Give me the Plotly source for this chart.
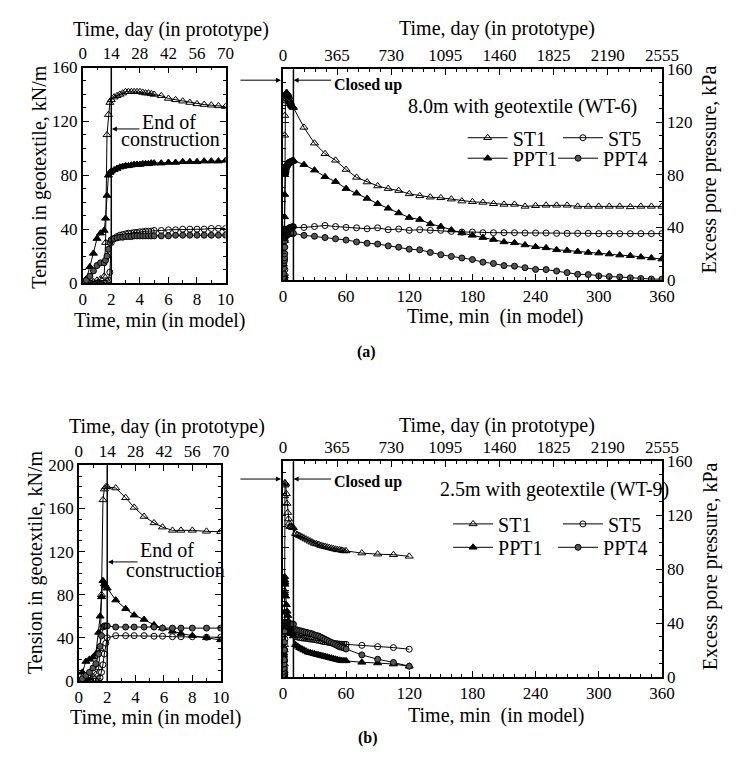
import plotly.graph_objects as go

FONT = "Liberation Serif, Times New Roman, Tinos, DejaVu Serif, serif"
W, H = 744, 766

# ---------------- (a) 8.0 m with geotextile (WT-6) ----------------
t_early_a = [0, 0.25, 0.5, 0.75, 1.0, 1.25, 1.5, 1.6, 1.7, 1.8, 1.9, 2.0,
             2.2, 2.4, 2.6, 2.8, 3.0, 3.2, 3.4, 3.6, 3.8, 4.0, 4.2, 4.4, 4.6, 4.8, 5.0,
             5.5, 6.0, 6.5, 7.0, 7.5, 8.0, 8.5, 9.0, 9.5, 10.0]
st1_early_a = [0, 0, 0, 1, 2, 3, 5, 30, 110, 125, 134, 136,
               138, 139, 140, 141, 142, 142, 142, 142, 142, 142, 141.5, 141, 141, 140.5, 140,
               139, 137, 136, 135, 134, 133, 132.5, 132, 131.5, 131]
st5_early_a = [0, 0, 0, 0, 0, 0, 0, 0, 1, 2, 8, 30,
               33, 34.5, 35.5, 36, 36.5, 37, 37, 37.5, 37.5, 38, 38, 38.5, 38.5, 38.5, 39,
               39, 39.5, 39.5, 40, 40, 40, 40, 40.5, 40.5, 40.5]
ppt1_early_a = [0, 3, 12, 22, 33, 37, 39, 48, 65, 80, 82, 83,
                84, 85, 86, 86.5, 87, 87, 87.5, 88, 88, 88, 88.5, 88.5, 88.5, 89, 89,
                89, 89.5, 89.5, 90, 90, 90, 90.5, 90.5, 90.5, 91]
ppt4_early_a = [0, 2, 5, 9, 13, 15, 15, 17, 20, 25, 30, 32,
                33, 33.5, 34, 34, 34.5, 34.5, 34.5, 35, 35, 35, 35, 35, 35, 35, 35,
                35, 35, 35.5, 35.5, 35.5, 35.5, 35.5, 35.5, 35.5, 35.5]

t_late_a = [20, 30, 40, 50, 60, 70, 80, 90, 100, 110, 120, 130, 140, 150, 160, 170, 180,
            190, 200, 210, 220, 230, 240, 250, 260, 270, 280, 290, 300, 310, 320, 330,
            340, 350, 360]
st1_late_a = [116, 104, 96, 91, 84, 78, 74.5, 71.5, 69.5, 68, 65.5, 64, 63, 62.5, 61.5, 60,
              59.5, 59, 58, 57.5, 57.5, 56, 56.5, 56.8, 56.8, 56.8, 56, 56, 56, 56, 56, 55.6,
              56, 56, 56]
st5_late_a = [40, 40.7, 41.5, 40.7, 40, 39.7, 39, 39.7, 38.3, 38.8, 37.8, 38.3, 37.8, 37.8,
              37, 36.5, 36.5, 36, 36, 36, 36, 35.8, 35.8, 35.8, 35.5, 35.5, 35.5, 35.5, 35.3,
              35.3, 35.3, 35.3, 35.3, 35.3, 35.3]
ppt1_late_a = [87.7, 83.5, 78.5, 74.8, 69.5, 66, 62, 58, 54.5, 51, 47.5, 46, 42.7, 40.7, 38,
               35.8, 34, 32.3, 30.8, 29, 28.3, 26.7, 25.3, 24.5, 23, 22.5, 21.7, 21, 20.5,
               19.8, 19, 18.5, 17.5, 16.8, 16]
ppt4_late_a = [34, 33.3, 32.3, 31.4, 30.4, 29, 28, 27.4, 26, 25, 23.5, 23, 21, 19.3, 18, 16.8,
               15.6, 13.6, 12.6, 11, 10.6, 9.4, 8.1, 8, 6.9, 5.7, 4.4, 4.2, 3.2, 2.7, 2.4, 1.7,
               1.2, 0.8, 0.7]

# ---------------- (b) 2.5 m with geotextile (WT-9) ----------------
t_early_b = [0, 0.25, 0.5, 0.75, 1.0, 1.2, 1.4, 1.5, 1.6, 1.7, 1.8, 1.9, 2.0,
             2.6, 3.3, 3.9, 4.6, 5.3, 5.9, 6.6, 7.2, 8.0, 9.0, 10.0]
st1_early_b = [0, 1, 2, 3, 4, 6, 12, 30, 80, 168, 178, 180, 180,
               179, 170, 161, 152.6, 146.6, 142.7, 139.7, 139.7, 139.7, 138.8, 138.5]
st5_early_b = [0, 0, 0, 0, 0, 0, 0, 3, 8, 15, 25, 35, 40,
               42, 42, 42, 42, 41.5, 41.5, 41, 41, 41, 40.5, 40.5]
ppt1_early_b = [0, 8, 18, 20, 22, 25, 45, 60, 78, 93, 90, 88, 86,
                75, 67, 61, 57, 52, 49, 46, 44, 42, 40, 38]
ppt4_early_b = [0, 2, 5, 8, 12, 16, 25, 32, 42, 50, 51, 51, 51,
                50, 50, 50, 50, 50, 49, 49, 49, 49, 49, 49]

t_late_b = [12, 14, 16, 18, 20, 22, 24, 26, 28, 30, 32, 34, 36, 38, 40, 42, 44, 46, 48, 50,
            52, 54, 56, 58, 60, 75, 90, 105, 120]
st1_late_b = [133, 132, 131, 130, 129, 128, 127, 126, 125, 124, 123.5, 123, 122, 121.5, 121,
              120.5, 120, 119.5, 119, 118.5, 118, 118, 117.5, 117, 117, 115, 114, 113.5, 112]
st5_late_b = [37.5, 37, 36.5, 36.3, 36, 35.8, 35.5, 35.2, 35, 34.8, 34.4, 34, 33.5, 33, 32.7,
              32.4, 32, 31.7, 31.3, 31, 30.8, 30.5, 30.4, 30.3, 30.3, 29.4, 28.2, 27.3, 25.8]
ppt1_late_b = [30, 28.5, 27, 26, 25, 24, 23, 22.5, 22, 21.5, 21, 20.5, 20, 19.5, 19, 18.5, 18,
               17.5, 17, 16.5, 16, 15.5, 15.2, 15, 15, 13.6, 13, 12, 10]
ppt4_late_b = [44, 43.5, 43, 42.5, 42, 41.5, 41, 40.5, 40, 39, 38.5, 38, 37, 36, 35, 34, 33,
               32, 31, 30, 29, 28, 27.5, 27, 26, 20.5, 16.5, 13.5, 10]

# axis tick labels
min_ticks_left = [0, 2, 4, 6, 8, 10]
day_ticks_left = [0, 14, 28, 42, 56, 70]
min_ticks_right = [0, 60, 120, 180, 240, 300, 360]
day_ticks_right = [0, 365, 730, 1095, 1460, 1825, 2190, 2555]
END_OF_CONSTRUCTION = 2   # min
CLOSED_UP = 10            # min

STYLES = {
    "ST1": dict(symbol="triangle-up-open", size=7, color="black", line=dict(color="black", width=1)),
    "ST5": dict(symbol="circle-open", size=6, color="black", line=dict(color="black", width=1)),
    "PPT1": dict(symbol="triangle-up", size=7, color="black", line=dict(color="black", width=1)),
    "PPT4": dict(symbol="circle", size=6, color="#555555", line=dict(color="black", width=1)),
}
SERIES = ["ST1", "ST5", "PPT1", "PPT4"]


def px2paper(x, y):
    return x / W, 1 - y / H


def axname(prefix, i):
    return prefix if i == 1 else f"{prefix}{i}"


fig = go.Figure()

panels = [
    dict(early=(t_early_a, [st1_early_a, st5_early_a, ppt1_early_a, ppt4_early_a]),
         late=(t_late_a, [st1_late_a, st5_late_a, ppt1_late_a, ppt4_late_a]),
         ax=(1, 2, 3, 4), legends=("legend", "legend2", "legend3", "legend4")),
    dict(early=(t_early_b, [st1_early_b, st5_early_b, ppt1_early_b, ppt4_early_b]),
         late=(t_late_b, [st1_late_b, st5_late_b, ppt1_late_b, ppt4_late_b]),
         ax=(5, 6, 7, 8), legends=("legend5", "legend6", "legend7", "legend8")),
]

for p in panels:
    a0, a1, a2, a3 = p["ax"]
    te, ve = p["early"]
    tl, vl = p["late"]
    for k, name in enumerate(SERIES):
        fig.add_trace(go.Scatter(x=te, y=ve[k], mode="lines+markers", name=name,
                                 line=dict(color="black", width=1), marker=STYLES[name],
                                 xaxis=axname("x", a0), yaxis=axname("y", a0),
                                 showlegend=False, hoverinfo="skip"))
    for k, name in enumerate(SERIES):
        fig.add_trace(go.Scatter(x=list(te) + list(tl), y=list(ve[k]) + list(vl[k]),
                                 mode="lines+markers", name=name,
                                 line=dict(color="black", width=1), marker=STYLES[name],
                                 xaxis=axname("x", a2), yaxis=axname("y", a2),
                                 showlegend=True, legend=p["legends"][k], hoverinfo="skip"))
    fig.add_trace(go.Scatter(x=[None], y=[None], xaxis=axname("x", a1), yaxis=axname("y", a0),
                             showlegend=False, hoverinfo="skip"))
    fig.add_trace(go.Scatter(x=[None], y=[None], xaxis=axname("x", a3), yaxis=axname("y", a3),
                             showlegend=False, hoverinfo="skip"))

base = dict(showline=True, linecolor="black", linewidth=1.6, ticks="inside", ticklen=6,
            tickwidth=1, tickcolor="black", showgrid=False, zeroline=False,
            tickfont=dict(family=FONT, size=17, color="black"), fixedrange=True)


def minor(d):
    return dict(dtick=d, ticks="inside", ticklen=3, tickwidth=1, tickcolor="black", showgrid=False)


layouts = {}
geo = [
    dict(L=(81, 228, 60, 281), R=(287, 677, 62, 278), yr=160, ax=(1, 2, 3, 4)),
    dict(L=(77, 223, 468, 689), R=(287, 677, 464, 685), yr=200, ax=(5, 6, 7, 8)),
]
for g in geo:
    a0, a1, a2, a3 = g["ax"]
    lx0, lx1, ly0, ly1 = g["L"]
    rx0, rx1, ry0, ry1 = g["R"]
    ldx = [lx0 / W, lx1 / W]
    ldy = [1 - ly1 / H, 1 - ly0 / H]
    rdx = [rx0 / W, rx1 / W]
    rdy = [1 - ry1 / H, 1 - ry0 / H]
    layouts[axname("xaxis", a0)] = dict(base, domain=ldx, range=[0, 10], tickvals=min_ticks_left,
                                        minor=minor(1), anchor=axname("y", a0))
    layouts[axname("xaxis", a1)] = dict(base, range=[0, 70], tickvals=day_ticks_left, minor=minor(7),
                                        overlaying=axname("x", a0), side="top", anchor=axname("y", a0))
    layouts[axname("yaxis", a0)] = dict(base, domain=ldy, range=[0, g["yr"]], dtick=40, minor=minor(10),
                                        anchor=axname("x", a0), mirror="ticks")
    layouts[axname("xaxis", a2)] = dict(base, domain=rdx, range=[0, 360], tickvals=min_ticks_right,
                                        minor=minor(10), anchor=axname("y", a2))
    layouts[axname("xaxis", a3)] = dict(base, range=[0, 2555], tickvals=day_ticks_right, minor=minor(73),
                                        overlaying=axname("x", a2), side="top", anchor=axname("y", a2))
    layouts[axname("yaxis", a2)] = dict(base, domain=rdy, range=[0, g["yr"]], dtick=40, minor=minor(10),
                                        anchor=axname("x", a2), showticklabels=False)
    layouts[axname("yaxis", a3)] = dict(base, range=[0, 160], dtick=40, minor=minor(10),
                                        overlaying=axname("y", a2), side="right", anchor=axname("x", a2))

leg_common = dict(font=dict(family=FONT, size=20, color="black"), bgcolor="rgba(0,0,0,0)",
                  xanchor="left", yanchor="middle", itemwidth=40, tracegroupgap=0, borderwidth=0)
legend_pos = {
    "legend": (472, 132), "legend2": (570, 132), "legend3": (472, 153), "legend4": (565, 153),
    "legend5": (457, 528), "legend6": (570, 528), "legend7": (457, 552), "legend8": (565, 552),
}
for key, (lpx, lpy) in legend_pos.items():
    x, y = px2paper(lpx, lpy)
    layouts[key] = dict(leg_common, x=x, y=y)

fig.update_layout(
    width=W, height=H, margin=dict(l=0, r=0, t=0, b=0), autosize=False,
    paper_bgcolor="white", plot_bgcolor="rgba(0,0,0,0)",
    font=dict(family=FONT, size=17, color="black"),
    **layouts,
)

for xa, ya, xv in [("x", "y", END_OF_CONSTRUCTION), ("x3", "y3", CLOSED_UP),
                   ("x5", "y5", END_OF_CONSTRUCTION), ("x7", "y7", CLOSED_UP)]:
    fig.add_shape(type="line", xref=xa, yref=f"{ya} domain", x0=xv, x1=xv, y0=0, y1=1,
                  line=dict(color="black", width=1.5))


def text(xp, yp, s, size=20, bold=False, anchor="center", angle=0):
    x, y = px2paper(xp, yp)
    fig.add_annotation(x=x, y=y, xref="paper", yref="paper", text=f"<b>{s}</b>" if bold else s,
                       showarrow=False, xanchor=anchor, yanchor="middle", textangle=angle,
                       font=dict(family=FONT, size=size, color="black"))


def arrow(x_head, y_head, x_tail):
    x, y = px2paper(x_head, y_head)
    fig.add_annotation(x=x, y=y, xref="paper", yref="paper", text="", showarrow=True,
                       ax=x_tail - x_head, ay=0, axref="pixel", ayref="pixel",
                       arrowhead=2, arrowsize=1, arrowwidth=1, arrowcolor="black", standoff=0)


TOP_T = "Time, day (in prototype)"
LEFT_Y = "Tension in geotextile, kN/m"
RIGHT_Y = "Excess pore pressure, kPa"

# (a) axis titles
text(172, 21, TOP_T)
text(160, 319, "Time, min (in model)")
text(37, 172, LEFT_Y, angle=-90)
text(507, 20, TOP_T)
text(505, 315, "Time, min&nbsp;&nbsp;(in model)")
text(726, 165, RIGHT_Y, angle=-90)
# (b) axis titles
text(168, 428, TOP_T)
text(156, 727, "Time, min (in model)")
text(33, 568, LEFT_Y, angle=-90)
text(507, 427, TOP_T)
text(506, 724, "Time, min&nbsp;&nbsp;(in model)")
text(727, 571, RIGHT_Y, angle=-90)

# (a) annotations
text(170, 116, "End of")
text(171, 133, "construction")
arrow(111, 123, 140)
arrow(285, 73, 243)
arrow(298, 73, 337)
text(338, 78, "Closed up", size=16, bold=True, anchor="left")
text(534, 100, "8.0m with geotextile (WT-6)")
text(373, 352, "(a)", size=16, bold=True)
# (b) annotations
text(168, 555, "End of")
text(176, 575, "construction")
arrow(107, 567, 138)
arrow(285, 482, 243)
arrow(298, 482, 337)
text(338, 485, "Closed up", size=16, bold=True, anchor="left")
text(566, 493, "2.5m with geotextile (WT-9)")
text(375, 748, "(b)", size=16, bold=True)

fig.write_html("out.html", config={"displayModeBar": False},
               post_script="document.body.style.margin='0';document.body.style.padding='0';"
                           "document.documentElement.style.overflow='hidden';")
